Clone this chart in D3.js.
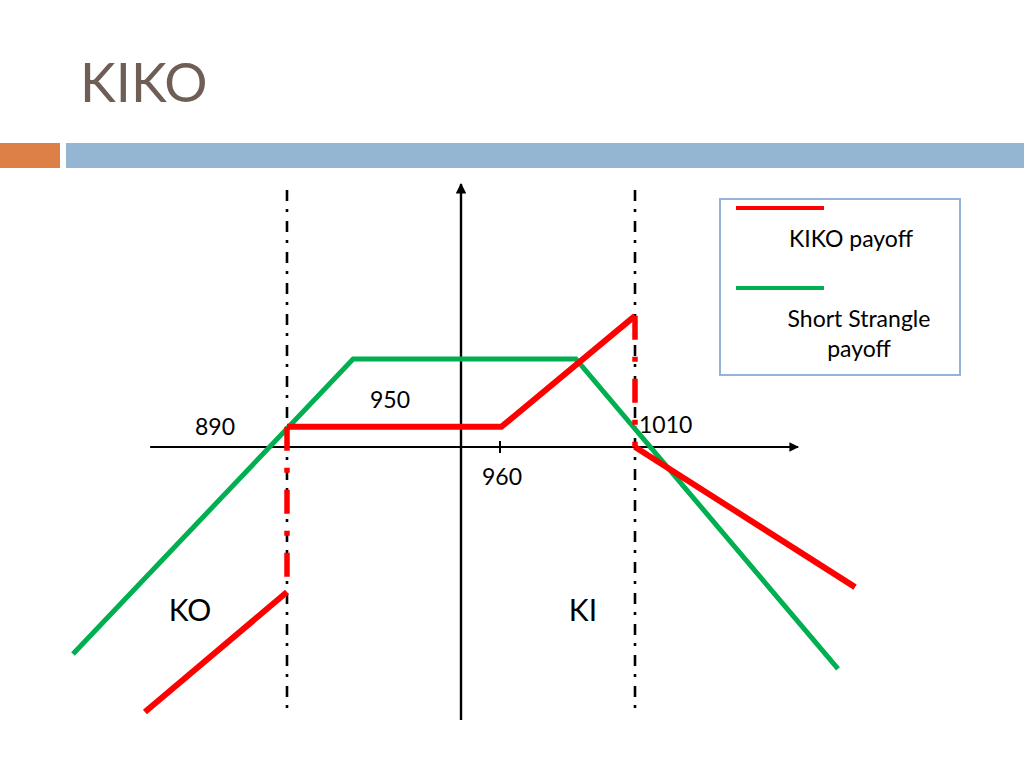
<!DOCTYPE html>
<html><head><meta charset="utf-8">
<script src="https://cdn.jsdelivr.net/npm/d3@7/dist/d3.min.js"></script>
<style>
body{margin:0;background:#fff;}
svg{display:block;font-family:Lato,"Open Sans",sans-serif;}
</style>
</head><body>
<svg id="c" width="1024" height="768"></svg>
<script>
// ---------- data (schematic price / payoff units) ----------
const title = "KIKO";
const priceBreaks = [890, 950, 960, 1010];          // KO barrier, axis origin, strike, KI barrier
const barriers = [890, 1010];
const axisPrice = 950;
const tickPrices = [960];
const tickLabels = ["890", "950", "960", "1010"];
const zoneLabels = ["KO", "KI"];
const shortStrangle = [[816.2, -66.8], [912.8, 28.4], [988.1, 28.4], [1085.2, -71.6]];
const kikoKO = [[841, -85.5], [890, -46.8]];
const kikoKOJump = [[890, 6.5], [890, -46.8]];
const kikoMid = [[890, 6.5], [960.5, 6.5], [1010, 42.3]];
const kikoKIJump = [[1010, 42.3], [1010, 0]];
const kikoKI = [[1010, 0], [1091.5, -45.2]];
const xExtent = [842.8, 1070.4];
const yExtent = [-88.1, 84.8];
const barrierExtent = [-86.5, 82.9];
const legendLabels = ["KIKO payoff", ["Short Strangle", "payoff"]];

// ---------- scales ----------
const x = d3.scaleLinear().domain(priceBreaks).range([287, 461, 500, 635]);
const y = d3.scaleLinear().domain([-100, 100]).range([757, 137]);
const line = d3.line().x(d => x(d[0])).y(d => y(d[1]));

const RED = "#ff0000", GREEN = "#00b050";
const svg = d3.select("#c");

const defs = svg.append("defs");
defs.append("marker").attr("id", "arr").attr("viewBox", "0 0 10 10")
  .attr("refX", 9).attr("refY", 5).attr("markerWidth", 5).attr("markerHeight", 4.4)
  .attr("orient", "auto").attr("markerUnits", "strokeWidth")
  .append("path").attr("d", "M0,0 L10,5 L0,10 Z").attr("fill", "#000");

// ---------- slide header ----------
svg.append("text").attr("x", 80).attr("y", 102).text(title)
  .attr("font-size", 54).attr("fill", "#6f5e55");
svg.append("rect").attr("x", 0).attr("y", 143).attr("width", 60).attr("height", 25).attr("fill", "#dd8047");
svg.append("rect").attr("x", 66).attr("y", 143).attr("width", 958).attr("height", 25).attr("fill", "#94b6d2");

// ---------- barriers (dash-dot) ----------
svg.selectAll(".barrier").data(barriers).join("line")
  .attr("x1", d => x(d)).attr("x2", d => x(d))
  .attr("y1", y(barrierExtent[1])).attr("y2", y(barrierExtent[0]))
  .attr("stroke", "#000").attr("stroke-width", 2.6)
  .attr("stroke-dasharray", "11,8,3,9");

// ---------- axes ----------
svg.append("line").attr("x1", x(xExtent[0])).attr("x2", x(xExtent[1]))
  .attr("y1", y(0)).attr("y2", y(0)).attr("stroke", "#000").attr("stroke-width", 2.2)
  .attr("marker-end", "url(#arr)");
svg.append("line").attr("x1", x(axisPrice)).attr("x2", x(axisPrice))
  .attr("y1", y(yExtent[0])).attr("y2", y(yExtent[1])).attr("stroke", "#000").attr("stroke-width", 2.4)
  .attr("marker-end", "url(#arr)");
svg.selectAll(".tick").data(tickPrices).join("line")
  .attr("x1", d => x(d)).attr("x2", d => x(d))
  .attr("y1", y(0) - 6).attr("y2", y(0) + 6)
  .attr("stroke", "#000").attr("stroke-width", 2);

// ---------- payoffs ----------
svg.append("path").datum(shortStrangle).attr("d", line)
  .attr("fill", "none").attr("stroke", GREEN).attr("stroke-width", 5);
[kikoKO, kikoMid, kikoKI].forEach(seg => {
  svg.append("path").datum(seg).attr("d", line)
    .attr("fill", "none").attr("stroke", RED).attr("stroke-width", 6);
});
[kikoKOJump, kikoKIJump].forEach(seg => {
  svg.append("path").datum(seg).attr("d", line)
    .attr("fill", "none").attr("stroke", RED).attr("stroke-width", 5.5)
    .attr("stroke-dasharray", "24,17,5,17");
});

// ---------- labels ----------
const lab = (t, px, py, anchor, size) => svg.append("text").text(t)
  .attr("x", px).attr("y", py).attr("text-anchor", anchor)
  .attr("font-size", size).attr("fill", "#000");
lab(tickLabels[0], x(barriers[0]) - 52, y(0) - 12, "end", 23);
lab(tickLabels[1], (x(barriers[0]) + x(axisPrice)) / 2 + 16, y(0) - 39, "middle", 23);
lab(tickLabels[2], x(tickPrices[0]) + 2, y(0) + 38, "middle", 23);
lab(tickLabels[3], x(barriers[1]) + 4, y(0) - 14, "start", 23);
lab(zoneLabels[0], x(barriers[0]) - 97, y(0) + 174, "middle", 30);
lab(zoneLabels[1], x(barriers[1]) - 52, y(0) + 174, "middle", 30);

// ---------- legend ----------
const lg = svg.append("g");
lg.append("rect").attr("x", 720).attr("y", 199).attr("width", 240).attr("height", 176)
  .attr("fill", "#fff").attr("stroke", "#95b3d7").attr("stroke-width", 2);
lg.append("line").attr("x1", 736).attr("x2", 824).attr("y1", 208).attr("y2", 208)
  .attr("stroke", RED).attr("stroke-width", 4);
lg.append("line").attr("x1", 736).attr("x2", 824).attr("y1", 288).attr("y2", 288)
  .attr("stroke", GREEN).attr("stroke-width", 4);
lg.append("text").attr("x", 851).attr("y", 247).attr("text-anchor", "middle")
  .attr("font-size", 23).text(legendLabels[0]);
lg.append("text").attr("x", 859).attr("y", 327).attr("text-anchor", "middle")
  .attr("font-size", 23).text(legendLabels[1][0]);
lg.append("text").attr("x", 859).attr("y", 357).attr("text-anchor", "middle")
  .attr("font-size", 23).text(legendLabels[1][1]);
</script>
</body></html>
